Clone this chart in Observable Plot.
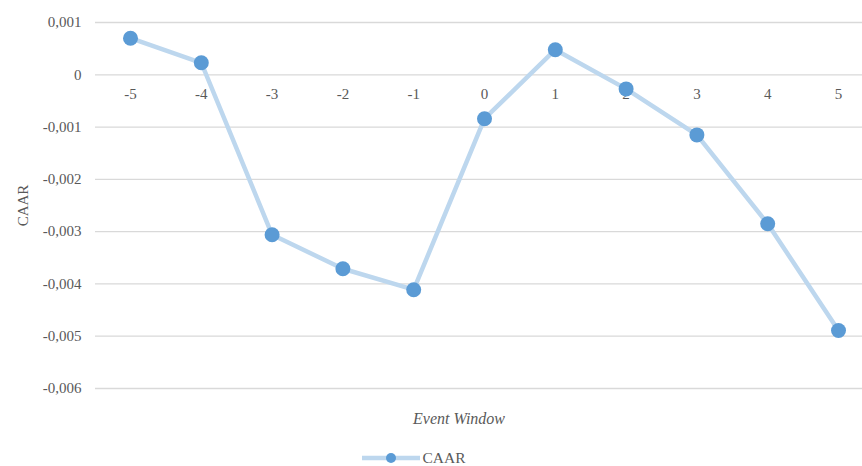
<!DOCTYPE html>
<html>
<head>
<meta charset="utf-8">
<script src="https://cdn.jsdelivr.net/npm/d3@7"></script>
<script src="https://cdn.jsdelivr.net/npm/@observablehq/plot@0.6"></script>
<style>
  html, body { margin: 0; background: #fff; font-family: "Liberation Serif", "Times New Roman", serif; overflow: hidden; }
  #chart svg { display: block; }
  #legend { display: flex; justify-content: center; align-items: center; height: 14px; line-height: 14px; margin-top: 5px; padding-right: 34px; color: #595959; font-size: 15.5px; }
  #legend svg { margin-right: 2px; display: block; }
</style>
</head>
<body>
<div id="chart"></div>
<div id="legend"></div>
<script>
const eventDays = [-5, -4, -3, -2, -1, 0, 1, 2, 3, 4, 5];
const caar = [0.0007, 0.00023, -0.00306, -0.00371, -0.00411, -0.00084, 0.00048, -0.00027, -0.00115, -0.00285, -0.00489];
const yTicks = [0.001, 0, -0.001, -0.002, -0.003, -0.004, -0.005, -0.006];
const seriesName = "CAAR";
const xTitle = "Event Window";

const data = eventDays.map((d, i) => ({day: d, value: caar[i]}));
const fmt = v => v === 0 ? "0" : (v < 0 ? "-" : "") + Math.abs(v).toFixed(3).replace(".", ",");

const lineColor = "#BDD7EE";
const dotColor = "#5B9BD5";
const textColor = "#595959";

const chart = Plot.plot({
  width: 862,
  height: 446,
  marginLeft: 95,
  marginRight: 0,
  marginTop: 22,
  marginBottom: 58,
  style: {fontFamily: "'Liberation Serif', 'Times New Roman', serif", fontSize: "15px", color: textColor, background: "#fff"},
  x: {type: "point", domain: eventDays, range: [130, 838], padding: 0, round: false, axis: null},
  y: {domain: [-0.006, 0.001]},
  marks: [
    Plot.gridY(yTicks, {stroke: "#d9d9d9", strokeOpacity: 1, strokeWidth: 1.3}),
    Plot.axisY(yTicks, {tickSize: 0, tickPadding: 14, tickFormat: fmt, label: seriesName, labelAnchor: "center", labelArrow: "none", labelOffset: 78, fontSize: 15, fill: textColor}),
    Plot.text(eventDays, {x: d => d, y: () => 0, dy: 19, text: d => String(d), fill: textColor, fontSize: 15}),
    Plot.line(data, {x: "day", y: "value", stroke: lineColor, strokeWidth: 4.5}),
    Plot.dot(data, {x: "day", y: "value", r: 7.5, fill: dotColor, stroke: "none"}),
    Plot.text([xTitle], {frameAnchor: "bottom", dy: 35, dx: -20, fontStyle: "italic", fontSize: 16, fill: textColor})
  ]
});
document.getElementById("chart").appendChild(chart);

const legend = document.getElementById("legend");
legend.innerHTML = `<svg width="58" height="12"><line x1="0" y1="6" x2="58" y2="6" stroke="${lineColor}" stroke-width="4.5"/><circle cx="29" cy="6" r="5" fill="${dotColor}"/></svg><span>${seriesName}</span>`;
</script>
</body>
</html>
